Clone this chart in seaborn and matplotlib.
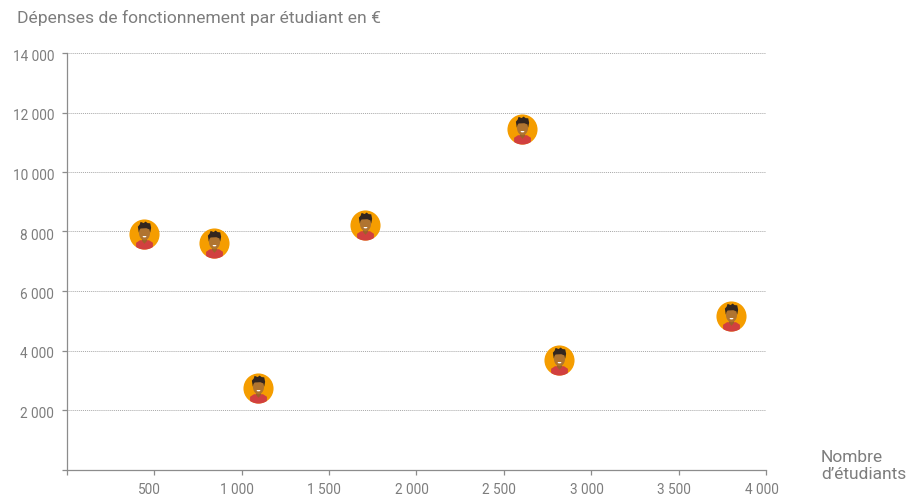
import numpy as np
import pandas as pd
import matplotlib
matplotlib.use('Agg')
import matplotlib.pyplot as plt
import seaborn as sb
from matplotlib.path import Path
from matplotlib.transforms import ScaledTranslation

# values
students = [442, 843, 1094, 1706, 2604, 2816, 3800]
spending = [7916, 7613, 2740, 8218, 11445, 3680, 5160]

x_ticks = [0, 500, 1000, 1500, 2000, 2500, 3000, 3500, 4000]
x_labels = ['', '500', '1 000', '1 500', '2 000', '2 500', '3 000', '3 500', '4 000']
y_ticks = [0, 2000, 4000, 6000, 8000, 10000, 12000, 14000]
y_labels = ['', '2 000', '4 000', '6 000', '8 000', '10 000', '12 000', '14 000']

TEXT_GREY = '#7d7d7d'
AXIS_GREY = '#8c8c8c'
ICON_SIZE = 470


def iconMarker(*shapes):
    # the extra moveto keeps every layer on the same scale (circle radius = 1)
    verts = [(1, 1)]
    codes = [Path.MOVETO]
    for shape in shapes:
        verts += list(shape)
        codes += [Path.MOVETO] + [Path.LINETO] * (len(shape) - 2) + [Path.CLOSEPOLY]
    return Path(verts, codes)


def ellipse(cx, cy, rx, ry):
    t = np.linspace(0, 2 * np.pi, 40)
    return list(zip(cx + rx * np.cos(t), cy + ry * np.sin(t)))


# shirt bottom follows the orange circle
angles = np.radians(np.linspace(304, 236, 12))
shirt_bottom = list(zip(np.cos(angles), np.sin(angles)))
shirt = iconMarker([(-0.56, -0.55), (-0.3, -0.38), (0.3, -0.38), (0.56, -0.55)] + shirt_bottom + [(-0.56, -0.55)])
neck = iconMarker([(-0.17, -0.15), (0.17, -0.15), (0.17, -0.42), (0, -0.62), (-0.17, -0.42), (-0.17, -0.15)])
head = iconMarker(ellipse(0, 0.12, 0.37, 0.5))
hair = iconMarker([(-0.38, 0.12), (-0.44, 0.52), (-0.32, 0.66), (-0.26, 0.84), (-0.06, 0.76), (0.08, 0.86),
                   (0.2, 0.76), (0.38, 0.74), (0.44, 0.45), (0.38, 0.12), (0.32, 0.34), (0.12, 0.42),
                   (-0.26, 0.4), (-0.33, 0.3), (-0.38, 0.12)])
smile = iconMarker([(-0.14, -0.1), (0.14, -0.1), (0.07, -0.19), (-0.07, -0.19), (-0.14, -0.1)])


def main():
    plt.rcParams['font.family'] = ['Roboto', 'DejaVu Sans']
    data = pd.DataFrame({'students': students, 'spending': spending})

    fig = plt.figure(figsize=(9.12, 4.99), dpi=100)
    ax = fig.add_axes([66.7 / 912, 1 - 469.5 / 499, 699.3 / 912, 416.5 / 499])

    layers = [('o', '#f59d00'), (shirt, '#d1403f'), (neck, '#9c6229'), (head, '#b07430'),
              (hair, '#33261f'), (smile, '#ffffff')]
    for marker, color in layers:
        sb.scatterplot(data=data, x='students', y='spending', marker=marker, color=color,
                       s=ICON_SIZE, linewidth=0, ax=ax, zorder=5, clip_on=False)

    ax.set_xlim(0, 4000)
    ax.set_ylim(0, 14000)
    ax.set_xlabel('')
    ax.set_ylabel('')
    ax.set_xticks(x_ticks, x_labels)
    ax.set_yticks(y_ticks, y_labels)
    ax.tick_params(axis='both', length=3.5, width=0.9, color=AXIS_GREY, labelcolor=TEXT_GREY, labelsize=9.8)
    ax.tick_params(axis='x', pad=6)
    ax.tick_params(axis='y', pad=5.5)

    # labels sit a little off their ticks in the original
    for label in ax.get_xticklabels():
        label.set_transform(label.get_transform() + ScaledTranslation(-4.5 / 100, 0, fig.dpi_scale_trans))
    for label in ax.get_yticklabels():
        label.set_transform(label.get_transform() + ScaledTranslation(0, -2.5 / 100, fig.dpi_scale_trans))

    ax.grid(axis='y', color='#a8a8a8', linestyle=(0, (1, 1)), linewidth=0.7)
    ax.grid(axis='x', visible=False)
    ax.set_axisbelow(True)
    for side in ['top', 'right']:
        ax.spines[side].set_visible(False)
    for side in ['left', 'bottom']:
        ax.spines[side].set_color(AXIS_GREY)
        ax.spines[side].set_linewidth(0.9)

    fig.text(17 / 912, 1 - 18 / 499, 'Dépenses de fonctionnement par étudiant en €', color=TEXT_GREY,
             fontsize=12.6, va='center', ha='left')
    fig.text(821 / 912, 1 - 466 / 499, 'Nombre\nd’étudiants', color=TEXT_GREY, fontsize=12.5,
             va='center', ha='left', linespacing=1.2)

    fig.savefig('out.png', dpi=100)
    plt.close(fig)


if "__main__" == __name__:
    main()
